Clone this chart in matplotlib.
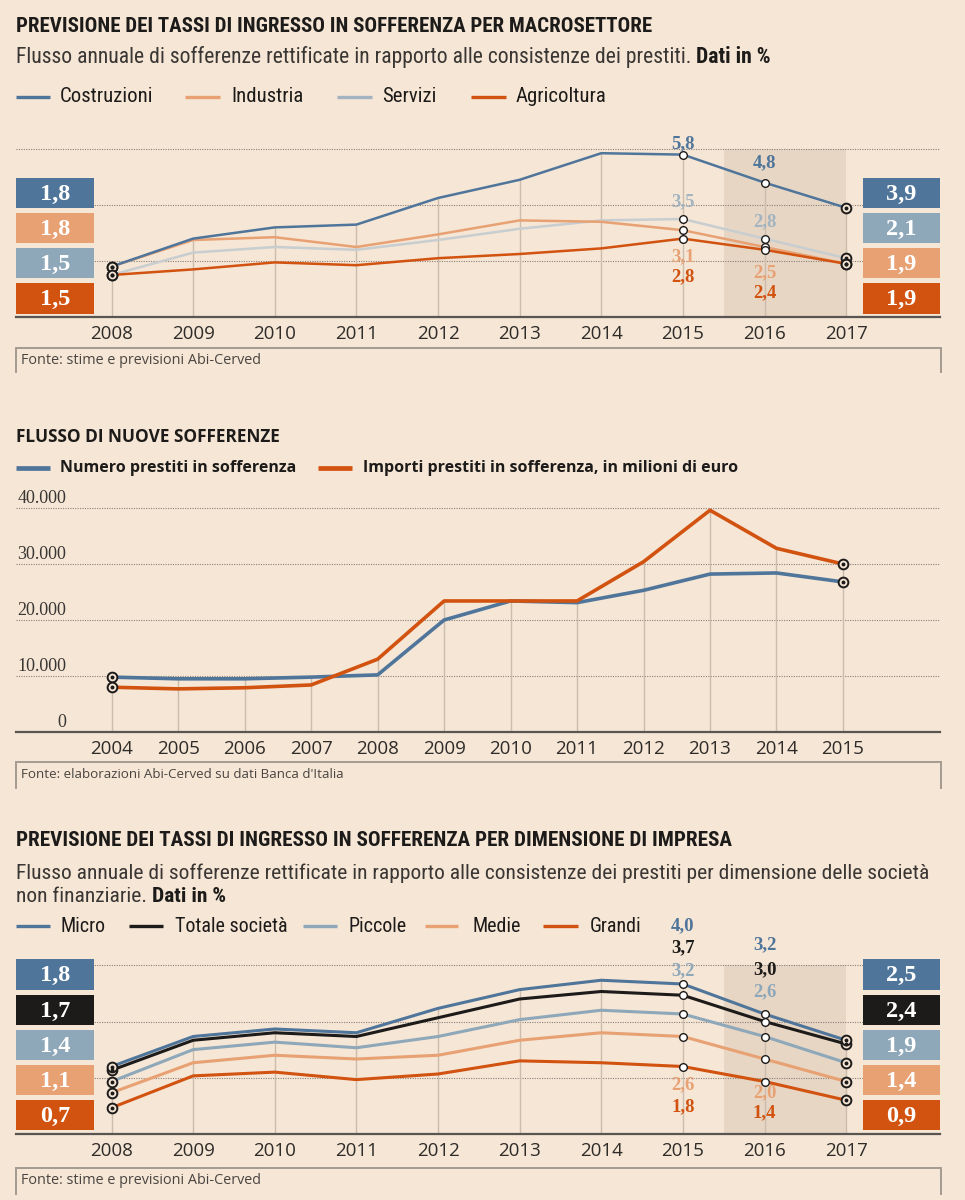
#Infografica: tassi di ingresso in sofferenza (Abi-Cerved)
#three stacked panels drawn on one figure, layout in pixel coordinates

import matplotlib
matplotlib.use("Agg")
import matplotlib.pyplot as plt
from matplotlib.patches import Rectangle
from matplotlib.lines import Line2D
from matplotlib import transforms, font_manager

# ---- panel 1: tassi per macrosettore (%)
anni_settori = [2008, 2009, 2010, 2011, 2012, 2013, 2014, 2015, 2016, 2017]
costruzioni = [1.8, 2.8, 3.2, 3.3, 4.25, 4.9, 5.85, 5.8, 4.8, 3.9]
industria = [1.8, 2.75, 2.85, 2.5, 2.95, 3.45, 3.4, 3.1, 2.5, 1.9]
servizi = [1.5, 2.3, 2.5, 2.4, 2.75, 3.15, 3.45, 3.5, 2.8, 2.1]
agricoltura = [1.5, 1.7, 1.95, 1.85, 2.1, 2.25, 2.45, 2.8, 2.4, 1.9]

# ---- panel 2: flusso di nuove sofferenze
anni_flusso = [2004, 2005, 2006, 2007, 2008, 2009, 2010, 2011, 2012, 2013, 2014, 2015]
numero_prestiti = [9800, 9500, 9500, 9800, 10200, 20000, 23400, 23100, 25300, 28200, 28400, 26800]
importi_prestiti = [8000, 7700, 7900, 8400, 13000, 23400, 23400, 23400, 30400, 39600, 32800, 30000]
tick_flusso = [0, 10000, 20000, 30000, 40000]

# ---- panel 3: tassi per dimensione di impresa (%)
anni_imprese = [2008, 2009, 2010, 2011, 2012, 2013, 2014, 2015, 2016, 2017]
micro = [1.8, 2.6, 2.8, 2.7, 3.35, 3.85, 4.1, 4.0, 3.2, 2.5]
totale = [1.7, 2.5, 2.7, 2.6, 3.1, 3.6, 3.8, 3.7, 3.0, 2.4]
piccole = [1.4, 2.25, 2.45, 2.3, 2.6, 3.05, 3.3, 3.2, 2.6, 1.9]
medie = [1.1, 1.9, 2.1, 2.0, 2.1, 2.5, 2.7, 2.6, 2.0, 1.4]
grandi = [0.7, 1.55, 1.65, 1.45, 1.6, 1.95, 1.9, 1.8, 1.4, 0.9]

BG = "#f5e6d6"
BAND = "#e7d6c4"
BLUE = "#50759a"
LORANGE = "#e8a173"
GREYBLUE = "#8ea7b9"
LIGHTGREY = "#c8cdd0"
DORANGE = "#d2520f"
BLACK = "#1d1b19"
DROP = "#cbbcab"
GRID = "#8a8079"
TXT = "#2e2b28"

SANS = "Open Sans"
SERIF = "Liberation Serif"
# condensed face for titles, if one is installed
installed = {f.name for f in font_manager.fontManager.ttflist}
COND = SANS
for name in ["Liberation Sans Narrow", "Roboto Condensed", "Open Sans Condensed", "DejaVu Sans Condensed"]:
    if name in installed:
        COND = name
        break

W, H = 965, 1200
fig = plt.figure(figsize=(W / 100, H / 100), dpi=100, facecolor=BG)
renderer = fig.canvas.get_renderer()


def put(x, y, s, **kw):
    kw.setdefault("va", "center")
    kw.setdefault("ha", "left")
    kw.setdefault("color", TXT)
    kw.setdefault("fontfamily", SANS)
    return fig.text(x / W, 1 - y / H, s, **kw)


def fit(t, width):
    bb = t.get_window_extent(renderer)
    t.set_fontsize(t.get_fontsize() * width / bb.width)
    return t


def hline_px(x0, x1, y, color, lw):
    fig.add_artist(Line2D([x0 / W, x1 / W], [1 - y / H] * 2, color=color, lw=lw,
                          transform=fig.transFigure, solid_capstyle="butt"))


def vline_px(x, y0, y1, color, lw):
    fig.add_artist(Line2D([x / W] * 2, [1 - y0 / H, 1 - y1 / H], color=color, lw=lw,
                          transform=fig.transFigure))


def box(x0, y0, x1, y1, color, label):
    fig.add_artist(Rectangle((x0 / W, 1 - y1 / H), (x1 - x0) / W, (y1 - y0) / H,
                             transform=fig.transFigure, fc=color, ec="none", zorder=3))
    put((x0 + x1) / 2, (y0 + y1) / 2 + 1, label, ha="center", color="white",
        fontfamily=SERIF, fontweight="bold", fontsize=17.5, zorder=4)


def fmt(v):
    return f"{v:.1f}".replace(".", ",")


def panel(base, pxu, ymax, xlim, years):
    top = base - ymax * pxu
    ax = fig.add_axes([16 / W, 1 - base / H, 924 / W, (base - top) / H])
    ax.set_facecolor("none")
    ax.set_xlim(*xlim)
    ax.set_ylim(0, ymax)
    for s in ["top", "right", "left"]:
        ax.spines[s].set_visible(False)
    ax.spines["bottom"].set_color("#5a5550")
    ax.spines["bottom"].set_linewidth(1.6)
    ax.set_yticks([])
    ax.set_xticks(years)
    ax.set_xticklabels([str(y) for y in years], fontfamily=SANS, fontsize=13.5, color=TXT)
    ax.tick_params(axis="x", length=0, pad=6)
    return ax


def grid(ax, vals):
    ax.hlines(vals, *ax.get_xlim(), colors=GRID, lw=0.8, linestyles=(0, (1, 1.2)), zorder=1)


def drops(ax, years, series):
    tops = [max(v) for v in zip(*series)]
    ax.vlines(years, 0, tops, colors=DROP, lw=1, zorder=1.2)


def ring(ax, x, y):
    ax.plot(x, y, "o", ms=7, mfc=BG, mec=BLACK, mew=1.4, zorder=6)
    ax.plot(x, y, "o", ms=1.8, color=BLACK, zorder=7)


def dot(ax, x, y):
    ax.plot(x, y, "o", ms=5.5, mfc="white", mec=BLACK, mew=1, zorder=6)


def source(y_top, y_bot, s, width):
    hline_px(16, 941, y_top, "#a39a91", 1.4)
    vline_px(16, y_top, y_bot, "#a39a91", 1.4)
    vline_px(941, y_top, y_bot, "#a39a91", 1.4)
    fit(put(21, y_top + 13, s, fontsize=10, color="#4a4540"), width)


def subtitle(y, regular, bold, width):
    t = fit(put(16, y, regular, fontsize=12, color="#3a3633", fontfamily=COND), width)
    x1 = t.get_window_extent(renderer).x1
    put(x1 + 5, y, bold, fontsize=t.get_fontsize(), fontweight="bold", color=BLACK, fontfamily=COND)


def legend(y, items, lw, family):
    size = None
    for x0, x1, xt, color, label, weight, width in items:
        hline_px(x0, x1, y, color, lw)
        t = put(xt, y, label, fontsize=12, fontweight=weight, color=BLACK, fontfamily=family)
        if width:
            fit(t, width)
            size = t.get_fontsize()
        else:
            t.set_fontsize(size)


# ================= panel 1 =================
fit(put(16, 26, "PREVISIONE DEI TASSI DI INGRESSO IN SOFFERENZA PER MACROSETTORE",
        fontsize=13, fontweight="bold", color=BLACK, fontfamily=COND), 630)
subtitle(57, "Flusso annuale di sofferenze rettificate in rapporto alle consistenze dei prestiti.",
         "Dati in %", 676)
legend(97, [(16, 50, 60, BLUE, "Costruzioni", "normal", 93),
            (185, 220, 231, LORANGE, "Industria", "normal", 0),
            (337, 372, 382, "#a3b4c0", "Servizi", "normal", 0),
            (471, 506, 516, DORANGE, "Agricoltura", "normal", 0)], 2.4, COND)

ax1 = panel(317, 28, 6.3, (2006.83, 2018.15), anni_settori)
ax1.add_patch(Rectangle((2015.5, 0), 1.5, 6, fc=BAND, ec="none", zorder=0.5))
grid(ax1, [2, 4, 6])
drops(ax1, anni_settori, [costruzioni, industria, servizi, agricoltura])
for serie, col in [(servizi, LIGHTGREY), (industria, LORANGE), (costruzioni, BLUE), (agricoltura, DORANGE)]:
    ax1.plot(anni_settori, serie, color=col, lw=1.8, zorder=3)
    ring(ax1, anni_settori[0], serie[0])
    ring(ax1, anni_settori[-1], serie[-1])
    dot(ax1, anni_settori[-3], serie[-3])
    dot(ax1, anni_settori[-2], serie[-2])

blend1 = transforms.blended_transform_factory(ax1.transData, fig.transFigure)
lab1 = [(costruzioni, BLUE, 144, 163), (servizi, "#a3b4c0", 202, 222),
        (industria, LORANGE, 257, 273), (agricoltura, DORANGE, 277, 293)]
for serie, col, y15, y16 in lab1:
    for k, yy in [(-3, y15), (-2, y16)]:
        ax1.text(anni_settori[k], 1 - yy / H, fmt(serie[k]), transform=blend1, ha="center",
                 va="center", color=col, fontfamily=SERIF, fontweight="bold", fontsize=13.5, zorder=8)

rows1 = [(178, 208), (213, 243), (248, 278), (283, 314)]
for (y0, y1), serie, col in zip(rows1, [costruzioni, industria, servizi, agricoltura],
                                [BLUE, LORANGE, GREYBLUE, DORANGE]):
    box(16, y0, 94, y1, col, fmt(serie[0]))
for (y0, y1), serie, col in zip(rows1, [costruzioni, servizi, industria, agricoltura],
                                [BLUE, GREYBLUE, LORANGE, DORANGE]):
    box(863, y0, 940, y1, col, fmt(serie[-1]))

source(348, 372, "Fonte: stime e previsioni Abi-Cerved", 241)

# ================= panel 2 =================
fit(put(16, 437, "FLUSSO DI NUOVE SOFFERENZE", fontsize=13, fontweight="bold", color=BLACK), 264)
legend(468, [(16, 50, 60, BLUE, "Numero prestiti in sofferenza", "bold", 235),
             (318, 352, 363, DORANGE, "Importi prestiti in sofferenza, in milioni di euro", "bold", 0)],
       3.4, SANS)

ax2 = panel(732, 0.0056, 42000, (2002.56, 2016.46), anni_flusso)
grid(ax2, tick_flusso[1:])
drops(ax2, anni_flusso, [numero_prestiti, importi_prestiti])
ax2.plot(anni_flusso, numero_prestiti, color=BLUE, lw=2.6, zorder=3)
ax2.plot(anni_flusso, importi_prestiti, color=DORANGE, lw=2.6, zorder=3)
for serie in [numero_prestiti, importi_prestiti]:
    ring(ax2, anni_flusso[0], serie[0])
    ring(ax2, anni_flusso[-1], serie[-1])
blend2 = transforms.blended_transform_factory(ax2.transAxes, ax2.transData)
for v in tick_flusso:
    ax2.annotate(f"{v:,}".replace(",", "."), xy=(50 / 924, v), xycoords=blend2,
                 xytext=(0, 1), textcoords="offset points", ha="right", va="bottom",
                 fontfamily=SERIF, fontsize=13, color="#3a3633")

source(762, 788, "Fonte: elaborazioni Abi-Cerved su dati Banca d'Italia", 322)

# ================= panel 3 =================
fit(put(16, 840, "PREVISIONE DEI TASSI DI INGRESSO IN SOFFERENZA PER DIMENSIONE DI IMPRESA",
        fontsize=13, fontweight="bold", color=BLACK, fontfamily=COND), 710)
t3 = fit(put(16, 873, "Flusso annuale di sofferenze rettificate in rapporto alle consistenze dei prestiti per dimensione delle società",
             fontsize=12, color="#3a3633", fontfamily=COND), 913)
sub3 = put(16, 897, "non finanziarie.", fontsize=t3.get_fontsize(), color="#3a3633", fontfamily=COND)
put(sub3.get_window_extent(renderer).x1 + 5, 897, "Dati in %", fontsize=t3.get_fontsize(),
    fontweight="bold", color=BLACK, fontfamily=COND)
legend(926, [(16, 50, 60, BLUE, "Micro", "normal", 45),
             (129, 163, 175, BLACK, "Totale società", "normal", 0),
             (303, 337, 348, GREYBLUE, "Piccole", "normal", 0),
             (425, 458, 473, LORANGE, "Medie", "normal", 0),
             (543, 578, 590, DORANGE, "Grandi", "normal", 0)], 2.4, COND)

ax3 = panel(1134, 37.5, 4.8, (2006.83, 2018.15), anni_imprese)
ax3.add_patch(Rectangle((2015.5, 0), 1.5, 4.5, fc=BAND, ec="none", zorder=0.5))
grid(ax3, [1.5, 3.0, 4.5])
serie3 = [micro, totale, piccole, medie, grandi]
col3 = [BLUE, BLACK, GREYBLUE, LORANGE, DORANGE]
drops(ax3, anni_imprese, serie3)
for serie, col in zip(serie3[::-1], col3[::-1]):
    ax3.plot(anni_imprese, serie, color=col, lw=2.2, zorder=3)
    ring(ax3, anni_imprese[0], serie[0])
    ring(ax3, anni_imprese[-1], serie[-1])
    dot(ax3, anni_imprese[-3], serie[-3])
    dot(ax3, anni_imprese[-2], serie[-2])

blend3 = transforms.blended_transform_factory(ax3.transData, fig.transFigure)
lab3_y15 = [926, 948, 971, 1085, 1107]
lab3_y16 = [945, 970, 992, 1093, 1113]
for serie, col, y15, y16 in zip(serie3, col3, lab3_y15, lab3_y16):
    for k, yy in [(-3, y15), (-2, y16)]:
        ax3.text(anni_imprese[k], 1 - yy / H, fmt(serie[k]), transform=blend3, ha="center",
                 va="center", color=col, fontfamily=SERIF, fontweight="bold", fontsize=13.5, zorder=8)

rows3 = [(959, 990), (995, 1025), (1030, 1060), (1065, 1095), (1100, 1130)]
for (y0, y1), serie, col in zip(rows3, serie3, col3):
    box(16, y0, 94, y1, col, fmt(serie[0]))
    box(863, y0, 940, y1, col, fmt(serie[-1]))

source(1168, 1194, "Fonte: stime e previsioni Abi-Cerved", 241)

plt.savefig("out.png", dpi=100, facecolor=BG)
